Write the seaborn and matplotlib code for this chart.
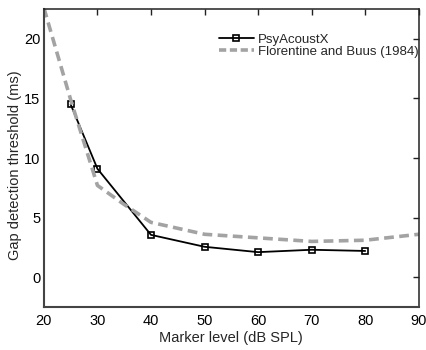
import matplotlib
matplotlib.use("Agg")
import matplotlib.pyplot as plt
import seaborn as sns
import pandas as pd

# Data
psy_level = [25, 30, 40, 50, 60, 70, 80]
psy_gap = [14.5, 9.1, 3.55, 2.55, 2.1, 2.3, 2.2]

fb_level = [20, 25, 30, 35, 40, 50, 60, 70, 80, 90]
fb_gap = [22.6, 14.9, 7.7, 6.1, 4.6, 3.6, 3.3, 3.0, 3.1, 3.6]

xticks = [20, 30, 40, 50, 60, 70, 80, 90]
yticks = [0, 5, 10, 15, 20]

sns.set_style("white")
plt.rcParams['font.family'] = ['Liberation Sans', 'DejaVu Sans']

fig = plt.figure(figsize=(4.26, 3.5), dpi=100)
ax = fig.add_axes([0.103, 0.123, 0.880, 0.851])

df_psy = pd.DataFrame({"level": psy_level, "gap": psy_gap})
df_fb = pd.DataFrame({"level": fb_level, "gap": fb_gap})

DASH = [2.7, 1.5]

sns.lineplot(data=df_psy, x="level", y="gap", ax=ax, color="black", lw=1.3,
             marker="s", markersize=4.5, markerfacecolor="none",
             markeredgecolor="black", markeredgewidth=1.2, label="PsyAcoustX")
sns.lineplot(data=df_fb, x="level", y="gap", ax=ax, color="#a3a3a3", lw=2.6,
             dashes=False, label="Florentine and Buus (1984)")
ax.lines[-1].set_dashes(DASH)

ax.set_xlim(20, 90)
ax.set_ylim(-2.5, 22.5)
ax.set_xticks(xticks)
ax.set_yticks(yticks)
ax.tick_params(direction="in", length=4, width=1, labelsize=10.5, top=True,
               right=True, colors="#222222")
ax.tick_params(axis="y", pad=2.5)
ax.tick_params(axis="x", pad=5)
ax.tick_params(labelcolor="black")
for s in ax.spines.values():
    s.set_visible(True)
    s.set_color("#222222")
    s.set_linewidth(1.1)
ax.spines["left"].set_linewidth(1.5)
ax.spines["bottom"].set_linewidth(1.5)
ax.spines["left"].set_color("#444444")
ax.spines["bottom"].set_color("#444444")

ax.set_xlabel("Marker level (dB SPL)", fontsize=10.5, labelpad=2)
ax.set_ylabel("Gap detection threshold (ms)", fontsize=10.5)
ax.yaxis.set_label_coords(-0.058, 0.475)

leg = ax.legend(loc="upper right", frameon=False, fontsize=9.5,
                handlelength=2.65, handletextpad=0.3, labelspacing=0.0,
                borderaxespad=0.2, bbox_to_anchor=(1.02, 0.945))
leg.get_lines()[1].set_dashes([2.0, 1.0])

fig.savefig("out.png", dpi=100)
